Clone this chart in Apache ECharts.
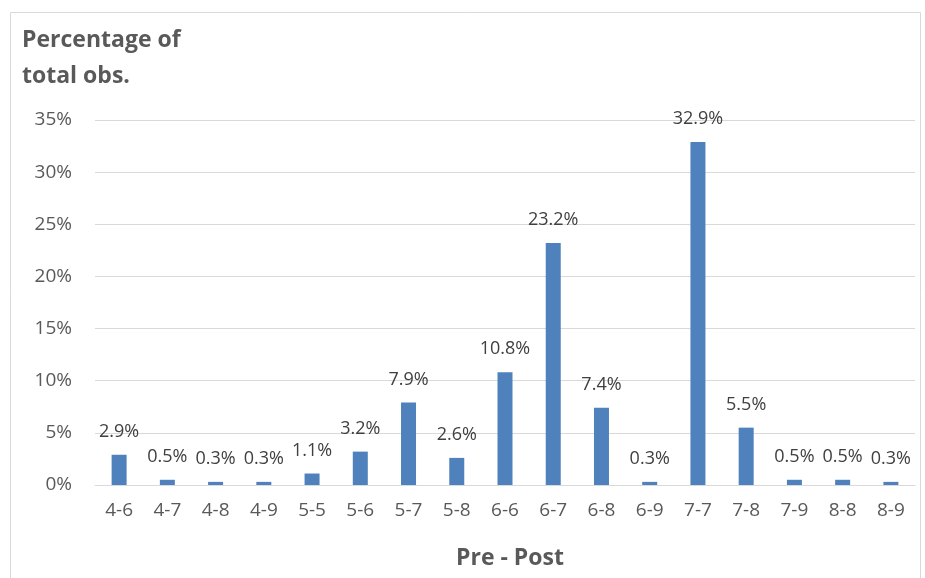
<!DOCTYPE html>
<html>
<head>
<meta charset="utf-8">
<script src="https://cdn.jsdelivr.net/npm/echarts@6/dist/echarts.min.js"></script>
<style>
  html, body { margin: 0; padding: 0; background: #fff; }
  #chart { width: 925px; height: 578px; }
</style>
</head>
<body>
<div id="chart"></div>
<script>
// Pre/post category pairs and their share of all observations (percent)
const categories = ['4-6', '4-7', '4-8', '4-9', '5-5', '5-6', '5-7', '5-8', '6-6', '6-7', '6-8', '6-9', '7-7', '7-8', '7-9', '8-8', '8-9'];
const shares = [2.9, 0.5, 0.3, 0.3, 1.1, 3.2, 7.9, 2.6, 10.8, 23.2, 7.4, 0.3, 32.9, 5.5, 0.5, 0.5, 0.3];
const yTitleLines = ['Percentage of', 'total obs.'];
const xTitle = 'Pre - Post';

const FONT = '"Open Sans", Lato, sans-serif';

const chart = echarts.init(document.getElementById('chart'), null, { renderer: 'canvas' });

chart.setOption({
  animation: false,
  backgroundColor: '#ffffff',
  textStyle: { fontFamily: FONT },
  graphic: [
    {
      type: 'rect',
      shape: { x: 10.5, y: 12.5, width: 910, height: 580 },
      style: { fill: 'none', stroke: '#d9d9d9', lineWidth: 1 },
      silent: true
    }
  ],
  title: [
    {
      text: yTitleLines.join('\n'),
      left: 17,
      top: 17,
      textStyle: { fontFamily: FONT, fontSize: 23, fontWeight: 'bold', color: '#595959', lineHeight: 36 }
    },
    {
      text: xTitle,
      left: 505,
      textAlign: 'center',
      top: 542,
      textStyle: { fontFamily: FONT, fontSize: 23, fontWeight: 'bold', color: '#595959' }
    }
  ],
  grid: { left: 95, right: 10, top: 120, bottom: 93, containLabel: false },
  xAxis: {
    type: 'category',
    data: categories,
    axisLine: { show: true, lineStyle: { color: '#d9d9d9', width: 1 } },
    axisTick: { show: false },
    axisLabel: { color: '#595959', fontSize: 19, fontFamily: FONT, margin: 16 }
  },
  yAxis: {
    type: 'value',
    min: 0,
    max: 35,
    interval: 5,
    axisLine: { show: false },
    axisTick: { show: false },
    splitLine: { lineStyle: { color: '#d9d9d9', width: 1 } },
    axisLabel: { formatter: '{value}%', color: '#595959', fontSize: 19, fontFamily: FONT, margin: 23 }
  },
  series: [
    {
      type: 'bar',
      data: shares,
      barWidth: 15,
      itemStyle: { color: '#4f81bd' },
      label: {
        show: true,
        position: 'top',
        distance: 14,
        formatter: '{c}%',
        color: '#404040',
        fontSize: 18,
        fontFamily: FONT
      }
    }
  ]
});
</script>
</body>
</html>
